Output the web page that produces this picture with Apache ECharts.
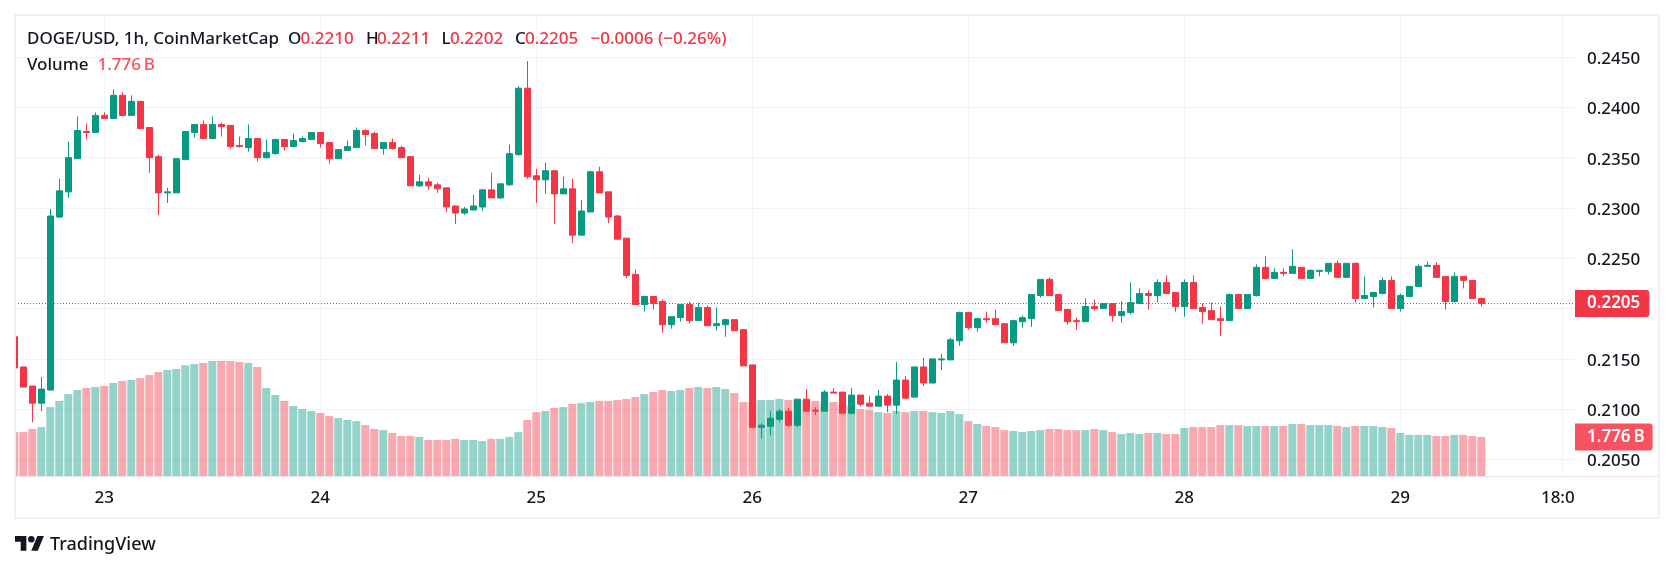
<!DOCTYPE html>
<html>
<head>
<meta charset="utf-8">
<style>html,body{margin:0;padding:0;background:#fff}#chart{width:1674px;height:571px}</style>
<script src="https://cdn.jsdelivr.net/npm/echarts@6/dist/echarts.min.js"></script>
</head>
<body>
<div id="chart"></div>
<script>
// DOGE/USD hourly candles. Hour 0 is 00:00 on the 23rd; the first bar sits ten hours earlier.
const firstHour = -10;

const opens = [
0.2172,0.2142,0.2123,0.2106,0.2119,0.2291,0.2316,0.2349,0.2376,0.2375,
0.2392,0.2389,0.2412,0.2392,0.2406,0.2380,0.2351,0.2315,0.2315,0.2348,0.2375,0.2383,0.2369,0.2383,0.2382,0.2362,0.2360,0.2369,0.2350,0.2354,0.2368,0.2361,0.2366,0.2368,
0.2375,0.2365,0.2349,0.2357,0.2360,0.2377,0.2374,0.2359,0.2365,0.2360,0.2351,0.2322,0.2326,0.2323,0.2320,0.2302,0.2295,0.2298,0.2301,0.2318,0.2310,0.2323,0.2353,0.2419,
0.2332,0.2328,0.2337,0.2314,0.2319,0.2273,0.2296,0.2336,0.2316,0.2292,0.2270,0.2234,0.2204,0.2212,0.2207,0.2184,0.2191,0.2204,0.2188,0.2201,0.2183,0.2184,0.2189,0.2179,
0.2144,0.2082,0.2083,0.2090,0.2098,0.2084,0.2110,0.2099,0.2098,0.2117,0.2117,0.2096,0.2114,0.2106,0.2103,0.2113,0.2104,0.2129,0.2112,0.2142,0.2126,0.2149,0.2149,0.2168,
0.2196,0.2181,0.2190,0.2190,0.2185,0.2166,0.2187,0.2190,0.2213,0.2229,0.2214,0.2199,0.2188,0.2187,0.2202,0.2200,0.2205,0.2193,0.2196,0.2205,0.2215,0.2213,0.2226,0.2216,
0.2202,0.2226,0.2201,0.2198,0.2190,0.2188,0.2214,0.2200,0.2213,0.2241,0.2230,0.2236,0.2235,0.2241,0.2230,0.2237,0.2237,0.2245,0.2231,0.2245,0.2210,0.2212,0.2215,0.2228,
0.2200,0.2212,0.2222,0.2242,0.2243,0.2232,0.2207,0.2232,0.2228,0.2210
];
const highs = [
0.2173,0.2142,0.2123,0.2132,0.2299,0.2329,0.2366,0.2391,0.2384,0.2395,
0.2395,0.2418,0.2415,0.2412,0.2406,0.2380,0.2353,0.2320,0.2349,0.2376,0.2383,0.2387,0.2391,0.2385,0.2382,0.2371,0.2383,0.2369,0.2368,0.2369,0.2368,0.2374,0.2371,0.2375,
0.2375,0.2365,0.2358,0.2367,0.2380,0.2378,0.2376,0.2365,0.2369,0.2362,0.2351,0.2333,0.2330,0.2325,0.2320,0.2302,0.2301,0.2313,0.2318,0.2335,0.2324,0.2363,0.2421,0.2446,
0.2339,0.2345,0.2337,0.2331,0.2329,0.2308,0.2337,0.2341,0.2316,0.2293,0.2270,0.2239,0.2213,0.2212,0.2209,0.2192,0.2204,0.2207,0.2206,0.2203,0.2201,0.2190,0.2189,0.2179,
0.2144,0.2086,0.2098,0.2100,0.2101,0.2110,0.2120,0.2102,0.2119,0.2121,0.2117,0.2121,0.2114,0.2113,0.2119,0.2115,0.2147,0.2133,0.2142,0.2151,0.2150,0.2155,0.2171,0.2197,
0.2196,0.2191,0.2197,0.2199,0.2185,0.2189,0.2193,0.2214,0.2229,0.2231,0.2214,0.2200,0.2191,0.2210,0.2209,0.2205,0.2205,0.2207,0.2226,0.2220,0.2218,0.2229,0.2233,0.2216,
0.2229,0.2233,0.2205,0.2206,0.2202,0.2215,0.2214,0.2214,0.2244,0.2252,0.2240,0.2240,0.2259,0.2241,0.2239,0.2238,0.2245,0.2248,0.2245,0.2246,0.2232,0.2216,0.2231,0.2232,
0.2215,0.2222,0.2244,0.2247,0.2246,0.2232,0.2236,0.2232,0.2228,0.2211
];
const lows = [
0.2141,0.2122,0.2087,0.2098,0.2119,0.2290,0.2310,0.2349,0.2368,0.2375,
0.2389,0.2389,0.2391,0.2392,0.2378,0.2335,0.2293,0.2305,0.2315,0.2348,0.2370,0.2369,0.2369,0.2371,0.2359,0.2360,0.2356,0.2346,0.2349,0.2353,0.2357,0.2361,0.2365,0.2368,
0.2360,0.2344,0.2349,0.2357,0.2360,0.2362,0.2359,0.2353,0.2358,0.2350,0.2322,0.2321,0.2318,0.2315,0.2296,0.2284,0.2293,0.2298,0.2297,0.2310,0.2309,0.2322,0.2352,0.2329,
0.2305,0.2314,0.2284,0.2314,0.2265,0.2273,0.2296,0.2315,0.2285,0.2269,0.2230,0.2204,0.2197,0.2199,0.2176,0.2180,0.2187,0.2185,0.2188,0.2183,0.2178,0.2172,0.2178,0.2143,
0.2081,0.2071,0.2074,0.2087,0.2082,0.2082,0.2098,0.2094,0.2098,0.2116,0.2096,0.2095,0.2103,0.2103,0.2103,0.2097,0.2095,0.2110,0.2112,0.2123,0.2126,0.2139,0.2149,0.2163,
0.2179,0.2177,0.2186,0.2184,0.2166,0.2163,0.2181,0.2182,0.2211,0.2213,0.2198,0.2184,0.2179,0.2187,0.2198,0.2200,0.2187,0.2186,0.2194,0.2205,0.2199,0.2206,0.2215,0.2197,
0.2192,0.2200,0.2185,0.2189,0.2173,0.2188,0.2200,0.2200,0.2212,0.2229,0.2230,0.2232,0.2235,0.2230,0.2230,0.2232,0.2234,0.2231,0.2231,0.2206,0.2210,0.2201,0.2214,0.2200,
0.2197,0.2212,0.2222,0.2242,0.2231,0.2199,0.2206,0.2220,0.2210,0.2202
];
const closes = [
0.2141,0.2122,0.2106,0.2120,0.2292,0.2317,0.2350,0.2377,0.2375,0.2392,
0.2389,0.2412,0.2392,0.2406,0.2379,0.2350,0.2315,0.2316,0.2349,0.2376,0.2383,0.2369,0.2383,0.2381,0.2361,0.2361,0.2369,0.2350,0.2355,0.2368,0.2361,0.2367,0.2369,0.2375,
0.2364,0.2349,0.2358,0.2361,0.2377,0.2373,0.2359,0.2365,0.2359,0.2350,0.2322,0.2326,0.2322,0.2319,0.2301,0.2295,0.2299,0.2302,0.2318,0.2310,0.2324,0.2354,0.2419,0.2331,
0.2328,0.2337,0.2314,0.2319,0.2273,0.2297,0.2336,0.2315,0.2291,0.2269,0.2233,0.2204,0.2212,0.2205,0.2184,0.2192,0.2204,0.2188,0.2201,0.2183,0.2185,0.2189,0.2178,0.2143,
0.2082,0.2084,0.2091,0.2098,0.2084,0.2110,0.2098,0.2098,0.2117,0.2116,0.2096,0.2114,0.2105,0.2103,0.2113,0.2104,0.2129,0.2111,0.2142,0.2126,0.2150,0.2150,0.2169,0.2196,
0.2181,0.2190,0.2189,0.2184,0.2166,0.2188,0.2191,0.2214,0.2229,0.2213,0.2198,0.2187,0.2187,0.2202,0.2200,0.2205,0.2193,0.2197,0.2206,0.2215,0.2213,0.2226,0.2215,0.2202,
0.2226,0.2200,0.2197,0.2189,0.2188,0.2214,0.2200,0.2214,0.2241,0.2230,0.2236,0.2235,0.2242,0.2230,0.2238,0.2238,0.2245,0.2231,0.2245,0.2210,0.2213,0.2216,0.2228,0.2200,
0.2213,0.2222,0.2242,0.2243,0.2231,0.2207,0.2232,0.2228,0.2210,0.2205
];
// Volume in billions.
const volumes = [
2.00,2.00,2.14,2.23,3.14,3.42,3.73,3.92,4.01,4.05,
4.10,4.24,4.33,4.37,4.46,4.60,4.74,4.83,4.87,5.05,5.10,5.15,5.24,5.24,5.24,5.19,5.15,4.96,4.01,3.69,3.42,3.19,3.05,2.96,
2.87,2.73,2.64,2.55,2.50,2.32,2.14,2.09,1.96,1.82,1.82,1.78,1.64,1.64,1.64,1.69,1.64,1.64,1.59,1.69,1.69,1.78,2.00,2.55,
2.91,2.96,3.10,3.14,3.28,3.32,3.37,3.42,3.42,3.46,3.51,3.60,3.73,3.83,3.92,3.87,3.92,4.01,4.05,4.01,4.05,3.96,3.78,3.37,
3.37,3.46,3.46,3.51,3.46,3.46,3.46,3.42,3.32,3.37,3.28,3.19,3.05,3.01,2.91,2.87,2.96,2.91,2.96,2.96,2.91,2.87,2.96,2.82,
2.50,2.37,2.28,2.23,2.09,2.05,2.00,2.05,2.09,2.14,2.14,2.09,2.09,2.09,2.14,2.09,2.00,1.91,1.96,1.91,1.96,1.96,1.91,1.91,
2.19,2.23,2.23,2.23,2.32,2.32,2.32,2.28,2.28,2.28,2.28,2.28,2.37,2.37,2.32,2.32,2.32,2.28,2.23,2.28,2.28,2.28,2.23,2.19,
1.96,1.87,1.87,1.87,1.82,1.82,1.87,1.87,1.82,1.776
];

const timeTicks = [0, 24, 48, 72, 96, 120, 144, 162];
const timeLabels = ['23', '24', '25', '26', '27', '28', '29', '{cut|18:0}'];
const priceTicks = [0.2050, 0.2100, 0.2150, 0.2200, 0.2250, 0.2300, 0.2350, 0.2400, 0.2450];
const lastPrice = 0.2205;
const lastVolume = 1.776;
const volumeText = '1.776\u2009B';

const UP = '#089981', DOWN = '#f23645', VOL_LABEL = '#f7525f', INK = '#131722', GRID = '#f2f3f6';
const FONT = '"Noto Sans", sans-serif';

const candles = opens.map((o, i) => [i + firstHour, o, closes[i], lows[i], highs[i]]);
const volumeBars = volumes.map((v, i) => [i + firstHour, v]);

// Header readouts: text, left edge, colour.
const headerRow = [
  ['DOGE/USD, 1h, CoinMarketCap', 27, INK],
  ['O', 288, INK], ['0.2210', 300.5, DOWN],
  ['H', 366, INK], ['0.2211', 377, DOWN],
  ['L', 441.5, INK], ['0.2202', 450, DOWN],
  ['C', 515, INK], ['0.2205', 525, DOWN],
  ['\u22120.0006 (\u22120.26%)', 590.5, DOWN]
];
const headerTexts = headerRow.map(([text, x, fill]) => ({
  type: 'text', x, y: 39, z: 20, silent: true,
  style: { text, fill, font: '500 17px ' + FONT, textVerticalAlign: 'middle' }
}));

const priceLabel = (text, bg, padRight) => ({
  show: true, position: 'end', distance: 0, formatter: text,
  backgroundColor: bg, color: '#fff', fontFamily: FONT, fontSize: 17, fontWeight: 600,
  padding: [4, padRight, 4, 12], lineHeight: 19, borderRadius: [0, 3, 3, 0]
});

const chart = echarts.init(document.getElementById('chart'), null, { renderer: 'canvas' });
chart.setOption({
  animation: false,
  backgroundColor: '#fff',
  grid: { left: 15, right: 99, top: 15, bottom: 95, containLabel: false },
  xAxis: {
    type: 'value', min: -9.92, max: 163.41,
    axisLine: { show: true, onZero: false, lineStyle: { color: '#e0e3eb', width: 1 } },
    axisTick: { show: false, customValues: timeTicks },
    axisLabel: {
      customValues: timeTicks, color: INK, fontFamily: FONT, fontSize: 17, fontWeight: 500, margin: 14,
      formatter: v => timeLabels[timeTicks.indexOf(v)],
      // The last label is cut by the price scale, so its visible part sits left of the tick.
      rich: { cut: { color: INK, fontFamily: FONT, fontSize: 17, fontWeight: 500, padding: [0, 9, 0, 0] } }
    },
    splitLine: { show: true, lineStyle: { color: GRID, width: 1 } }
  },
  yAxis: [
    {
      type: 'value', position: 'right', min: 0.20336, max: 0.24918, scale: true,
      axisLine: { show: false },
      axisTick: { show: false, customValues: priceTicks },
      axisLabel: {
        customValues: priceTicks, margin: 12,
        formatter: v => '{p|' + v.toFixed(4) + '}',
        // Extra room above the digits seats them on the grid line.
        rich: { p: { color: INK, fontFamily: FONT, fontSize: 17, fontWeight: 500, padding: [4, 0, 0, 0] } }
      },
      splitLine: { show: true, lineStyle: { color: GRID, width: 1 } }
    },
    { type: 'value', show: false, min: 0, max: 21, splitLine: { show: false } }
  ],
  series: [
    {
      type: 'bar', name: 'Volume', yAxisIndex: 1, z: 1, barWidth: 8,
      data: volumeBars,
      itemStyle: {
        color: p => closes[p.dataIndex] >= opens[p.dataIndex]
          ? 'rgba(8,153,129,0.43)' : 'rgba(242,54,69,0.43)'
      },
      markLine: {
        silent: true, symbol: 'none', animation: false, precision: 3,
        lineStyle: { color: 'rgba(0,0,0,0)' },
        label: priceLabel(volumeText, VOL_LABEL, 8),
        data: [{ yAxis: lastVolume }]
      }
    },
    {
      type: 'candlestick', name: 'DOGE/USD', z: 2, barWidth: 6,
      data: candles,
      itemStyle: { color: UP, color0: DOWN, borderColor: UP, borderColor0: DOWN, borderWidth: 1 },
      markLine: {
        silent: true, symbol: 'none', animation: false, precision: 4,
        lineStyle: { color: DOWN, type: [1, 2], width: 1 },
        label: priceLabel('0.2205', DOWN, 9),
        data: [{ yAxis: lastPrice }]
      }
    }
  ],
  graphic: [
    // The pane stops at its frame: the bar straddling the left edge is masked, then the frame drawn over it.
    { type: 'rect', silent: true, z: 18, shape: { x: 0, y: 16, width: 15, height: 461 }, style: { fill: '#fff' } },
    { type: 'rect', silent: true, z: 19, shape: { x: 15, y: 15, width: 1644, height: 503 }, style: { fill: 'none', stroke: '#f0f1f6', lineWidth: 2 } },
    // Time-scale rule running under the price scale.
    { type: 'rect', silent: true, shape: { x: 1575, y: 476, width: 84, height: 1 }, style: { fill: '#e0e3eb' } },
    ...headerTexts,
    { type: 'text', x: 27, y: 65, z: 20, silent: true, style: { text: 'Volume', fill: INK, font: '500 17px ' + FONT, textVerticalAlign: 'middle' } },
    { type: 'text', x: 97.5, y: 65, z: 20, silent: true, style: { text: volumeText, fill: VOL_LABEL, font: '500 17px ' + FONT, textVerticalAlign: 'middle' } },
    // Brand mark and wordmark in the footer.
    {
      type: 'group', x: 15, y: 532.75, scaleX: 0.814, scaleY: 0.814, silent: true,
      children: [
        { type: 'polygon', shape: { points: [[14, 22], [7, 22], [7, 11], [0, 11], [0, 4], [14, 4]] }, style: { fill: INK } },
        { type: 'polygon', shape: { points: [[28, 22], [20, 22], [27.5, 4], [35.5, 4]] }, style: { fill: INK } },
        { type: 'circle', shape: { cx: 20, cy: 8, r: 4 }, style: { fill: INK } }
      ]
    },
    { type: 'text', x: 50, y: 545, silent: true, style: { text: 'TradingView', fill: INK, font: '500 18px ' + FONT, textVerticalAlign: 'middle' } }
  ]
});
</script>
</body>
</html>
